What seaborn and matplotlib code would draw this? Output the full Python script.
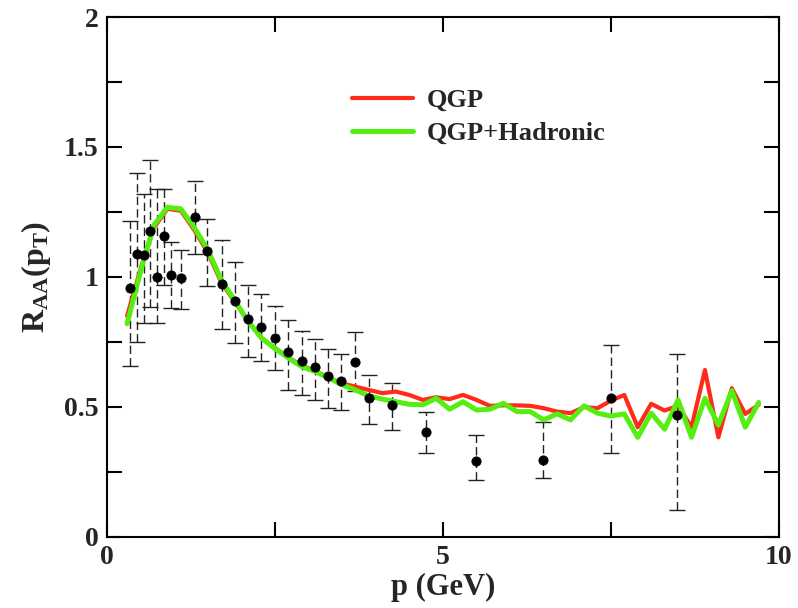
import numpy as np
import pandas as pd
import matplotlib
matplotlib.use("Agg")
import matplotlib.pyplot as plt
import seaborn as sns

# ---- data ----
curve_p = [0.3, 0.5, 0.7, 0.9, 1.1, 1.3, 1.5, 1.7, 1.9, 2.1, 2.3, 2.5, 2.7, 2.9,
           3.1, 3.3, 3.5, 3.7, 3.9, 4.1, 4.3, 4.5, 4.7, 4.9, 5.1, 5.3, 5.5, 5.7,
           5.9, 6.1, 6.3, 6.5, 6.7, 6.9, 7.1, 7.3, 7.5, 7.7, 7.9, 8.1, 8.3, 8.5,
           8.7, 8.9, 9.1, 9.3, 9.5, 9.7]
qgp = [0.85, 1.03, 1.19, 1.262, 1.255, 1.18, 1.095, 0.98, 0.905, 0.83, 0.765,
       0.727, 0.69, 0.66, 0.637, 0.613, 0.59, 0.578, 0.565, 0.553, 0.559, 0.546,
       0.527, 0.537, 0.530, 0.546, 0.527, 0.504, 0.506, 0.506, 0.504, 0.495,
       0.482, 0.476, 0.499, 0.495, 0.524, 0.546, 0.422, 0.512, 0.486, 0.504,
       0.422, 0.642, 0.383, 0.572, 0.473, 0.508]
qgp_had = [0.82, 1.02, 1.20, 1.268, 1.262, 1.19, 1.105, 0.99, 0.91, 0.83, 0.765,
           0.725, 0.688, 0.655, 0.636, 0.612, 0.585, 0.565, 0.542, 0.530, 0.520,
           0.510, 0.508, 0.533, 0.491, 0.520, 0.488, 0.491, 0.514, 0.482, 0.482,
           0.450, 0.473, 0.450, 0.504, 0.476, 0.465, 0.473, 0.383, 0.476, 0.414,
           0.527, 0.383, 0.533, 0.431, 0.563, 0.422, 0.517]

data_p = [0.347, 0.442, 0.555, 0.64, 0.749, 0.848, 0.952, 1.097, 1.31, 1.49,
          1.707, 1.905, 2.10, 2.30, 2.50, 2.70, 2.90, 3.10, 3.29, 3.49, 3.69,
          3.90, 4.25, 4.75, 5.49, 6.49, 7.50, 8.49]
data_r = [0.957, 1.088, 1.085, 1.177, 0.999, 1.158, 1.008, 0.995, 1.232, 1.10,
          0.972, 0.906, 0.837, 0.809, 0.767, 0.713, 0.677, 0.655, 0.617, 0.601,
          0.674, 0.536, 0.508, 0.403, 0.290, 0.296, 0.536, 0.469]
data_hi = [1.217, 1.399, 1.318, 1.45, 1.337, 1.337, 1.136, 1.104, 1.37, 1.222,
           1.142, 1.059, 0.969, 0.935, 0.888, 0.835, 0.793, 0.760, 0.722, 0.704,
           0.790, 0.623, 0.591, 0.482, 0.392, 0.440, 0.738, 0.704]
data_lo = [0.658, 0.751, 0.824, 0.886, 0.824, 0.969, 0.880, 0.876, 1.088, 0.965,
           0.799, 0.747, 0.691, 0.678, 0.642, 0.565, 0.546, 0.527, 0.495, 0.488,
           0.562, 0.435, 0.412, 0.324, 0.219, 0.226, 0.322, 0.104]

x_ticks = [0, 5, 10]
y_ticks = [0, 0.5, 1, 1.5, 2]

# ---- style ----
sns.set_style("ticks")
plt.rcParams['font.family'] = ['Liberation Serif', 'DejaVu Serif']
plt.rcParams['font.weight'] = 'bold'
plt.rcParams['mathtext.fontset'] = 'custom'
plt.rcParams['mathtext.rm'] = 'Liberation Serif:bold'
plt.rcParams['mathtext.it'] = 'Liberation Serif:bold'
plt.rcParams['mathtext.bf'] = 'Liberation Serif:bold'

fig = plt.figure(figsize=(7.98, 6.08), dpi=100)
ax = fig.add_axes([0.134, 0.117, 0.842, 0.855])

curves = pd.DataFrame({"p": curve_p, "QGP": qgp, "QGP+Hadronic": qgp_had})

sns.lineplot(data=curves, x="p", y="QGP", ax=ax, color="#ff2a17", lw=3.0,
             label="QGP", sort=False, estimator=None, zorder=3)
sns.lineplot(data=curves, x="p", y="QGP+Hadronic", ax=ax, color="#55ee11", lw=3.6,
             label="QGP+Hadronic", sort=False, estimator=None, zorder=4)

r = np.array(data_r)
yerr = [r - np.array(data_lo), np.array(data_hi) - r]
eb = ax.errorbar(data_p, data_r, yerr=yerr, fmt='none', ecolor='#222222',
                 elinewidth=1.0, capsize=6, capthick=1.0, zorder=2)
for coll in eb[2]:
    coll.set_linestyle((0, (6, 3)))
sns.scatterplot(x=data_p, y=data_r, ax=ax, color='black', s=45,
                edgecolor='black', zorder=5, legend=False)

ax.set_xlim(0, 10)
ax.set_ylim(0, 2)
ax.set_xticks(x_ticks)
ax.set_xticks([2.5, 7.5], minor=True)
ax.set_yticks(y_ticks)
ax.set_yticks([0.25, 0.75, 1.25, 1.75], minor=True)
ax.set_xticklabels([str(t) for t in x_ticks], fontsize=20, fontweight='bold')
ax.set_yticklabels(['0', '0.5', '1', '1.5', '2'], fontsize=20, fontweight='bold')
ax.tick_params(which='both', direction='in', top=True, right=True,
               length=11, width=1.5, color='black')
ax.tick_params(axis='x', pad=6)
ax.tick_params(axis='y', pad=6)
for s in ax.spines.values():
    s.set_linewidth(1.5)
    s.set_color('black')

ax.set_xlabel('p (GeV)', fontsize=22, fontweight='bold', labelpad=2)
ax.set_ylabel(r'$\mathbf{R_{AA}(p_T)}$', fontsize=23, labelpad=8)

leg = ax.legend(loc='upper left', bbox_to_anchor=(0.33, 0.908), frameon=False,
                fontsize=19, handlelength=2.3, handletextpad=0.5,
                labelspacing=0.35)
for t in leg.get_texts():
    t.set_fontweight('bold')

fig.savefig('out.png', dpi=100)
